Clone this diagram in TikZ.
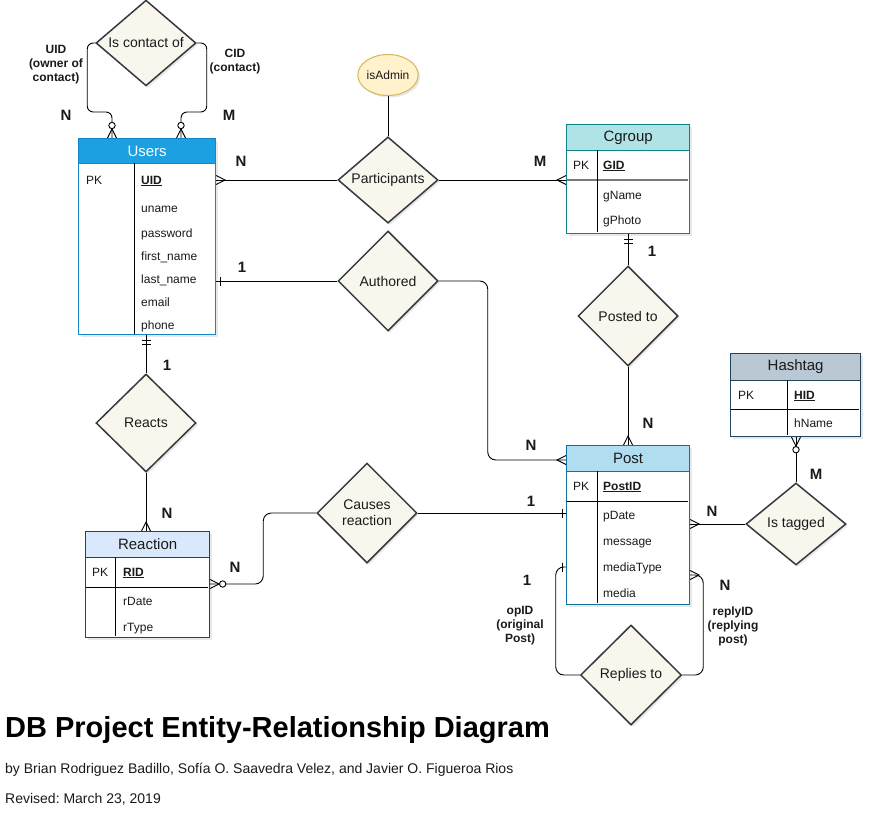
\documentclass[tikz,border=0pt]{standalone}
\usepackage{fontspec}
\setmainfont{Liberation Sans}
\usetikzlibrary{shapes.geometric,calc,shadows}
\frenchspacing
\definecolor{dfill}{HTML}{F9F7ED}
\definecolor{dborder}{HTML}{36393D}
\definecolor{usersH}{HTML}{1BA1E2}
\definecolor{usersB}{HTML}{1585C8}
\definecolor{cgH}{HTML}{B0E3E6}
\definecolor{cgB}{HTML}{0E8088}
\definecolor{postH}{HTML}{B1DDF0}
\definecolor{postB}{HTML}{10739E}
\definecolor{hashH}{HTML}{BAC8D3}
\definecolor{hashB}{HTML}{23445D}
\definecolor{reacH}{HTML}{DAE8FC}
\definecolor{reacB}{HTML}{3C3C3C}
\definecolor{adminF}{HTML}{FFF2CC}
\definecolor{adminB}{HTML}{D6B656}
\definecolor{txt}{HTML}{1A1A1A}
\definecolor{sepgray}{HTML}{7A7A7A}
\tikzset{
  conn/.style={draw=black, line width=0.9pt},
  softshadow/.style={drop shadow={opacity=0.18, shadow xshift=2pt, shadow yshift=-2pt}},
  attr/.style={anchor=mid west, yshift=-1.5pt, inner sep=0pt, font=\fontsize{12}{14}\selectfont, text=txt},
  card/.style={inner sep=0pt, font=\fontsize{15}{18}\selectfont\bfseries, text=txt},
  note/.style={inner sep=0pt, font=\fontsize{12}{14}\selectfont\bfseries, text=txt, align=center},
  rel/.style={diamond, draw=dborder, fill=dfill, line width=1.5pt, minimum width=100pt,
              minimum height=100pt, inner sep=0pt, font=\fontsize{14}{16}\selectfont, text=txt, align=center, softshadow},
  tbl/.style={draw=#1, line width=1.2pt, fill=white, inner sep=0pt, anchor=north west, softshadow},
  thead/.style={line width=1.2pt, inner sep=0pt, anchor=north west, font=\fontsize{15}{18}\selectfont, text=txt},
}
\newcommand\erMany[2]{\begin{scope}[shift={(#1)},rotate=#2]\draw[conn] (0,4.5)--(9,0)--(0,-4.5);\end{scope}}
\newcommand\erZeroMany[2]{\begin{scope}[shift={(#1)},rotate=#2]\draw[conn] (0,4.5)--(9,0)--(0,-4.5);\draw[conn,fill=white] (12.5,0) circle[radius=3.2pt];\end{scope}}
\newcommand\erMandOne[2]{\begin{scope}[shift={(#1)},rotate=#2]\draw[conn] (5,4.5)--(5,-4.5) (9,4.5)--(9,-4.5);\end{scope}}
\newcommand\erOne[2]{\begin{scope}[shift={(#1)},rotate=#2]\draw[conn] (4,4.5)--(4,-4.5);\end{scope}}
\begin{document}
\begin{tikzpicture}[x=1pt,y=-1pt]
\fill[white] (0,0) rectangle (872,835);
\useasboundingbox (0,0) rectangle (872,835);

% ---------- Users ----------
\node[tbl=usersB, minimum width=137pt, minimum height=196pt] (users) at (78,138) {};
\node[thead, draw=usersB, fill=usersH, text=white, minimum width=137pt, minimum height=25pt] (usersHead) at (78,138) {Users};
\draw[line width=1pt] (134,163) -- (134,334);
\node[attr] (uPK) at (86,180) {PK};
\node[attr] (uUID) at (141,180) {\textbf{\underline{UID}}};
\node[attr] (uName) at (141,208) {uname};
\node[attr] (uPass) at (141,233) {password};
\node[attr] (uFirst) at (141,256) {first\_name};
\node[attr] (uLast) at (141,279) {last\_name};
\node[attr] (uMail) at (141,302) {email};
\node[attr] (uPhone) at (141,325) {phone};

% ---------- Cgroup ----------
\node[tbl=cgB, minimum width=123pt, minimum height=109pt] (cgroup) at (566,124) {};
\node[thead, draw=cgB, fill=cgH, minimum width=123pt, minimum height=26pt] (cgHead) at (566,124) {Cgroup};
\draw[sepgray, line width=2pt] (567,180) -- (688,180);
\draw[line width=1pt] (597,150) -- (597,232);
\node[attr] (gPK) at (573,165) {PK};
\node[attr] (gGID) at (603,165) {\textbf{\underline{GID}}};
\node[attr] (gName) at (603,195) {gName};
\node[attr] (gPhoto) at (603,220) {gPhoto};

% ---------- Post ----------
\node[tbl=postB, minimum width=123pt, minimum height=159pt] (post) at (566,445) {};
\node[thead, draw=postB, fill=postH, minimum width=123pt, minimum height=26pt] (postHead) at (566,445) {Post};
\draw[line width=1pt] (567,501) -- (688,501);
\draw[line width=1pt] (597,471) -- (597,603);
\node[attr] (pPK) at (573,486) {PK};
\node[attr] (pID) at (603,486) {\textbf{\underline{PostID}}};
\node[attr] (pDate) at (603,515) {pDate};
\node[attr] (pMsg) at (603,541) {message};
\node[attr] (pMT) at (603,567) {mediaType};
\node[attr] (pMedia) at (603,593) {media};

% ---------- Hashtag ----------
\node[tbl=hashB, minimum width=130pt, minimum height=83pt] (hashtag) at (730,353) {};
\node[thead, draw=hashB, fill=hashH, minimum width=130pt, minimum height=27pt] (hashHead) at (730,353) {Hashtag};
\draw[line width=1pt] (731,409) -- (859,409);
\draw[line width=1pt] (787,380) -- (787,435);
\node[attr] (hPK) at (738,395) {PK};
\node[attr] (hID) at (794,395) {\textbf{\underline{HID}}};
\node[attr] (hName) at (794,423) {hName};

% ---------- Reaction ----------
\node[tbl=reacB, minimum width=124pt, minimum height=106pt] (reaction) at (85,531) {};
\node[thead, draw=reacB, fill=reacH, minimum width=124pt, minimum height=26pt] (reacHead) at (85,531) {Reaction};
\draw[line width=1pt] (86,587) -- (208,587);
\draw[line width=1pt] (115,557) -- (115,636);
\node[attr] (rPK) at (92,572) {PK};
\node[attr] (rID) at (123,572) {\textbf{\underline{RID}}};
\node[attr] (rDate) at (123,601) {rDate};
\node[attr] (rType) at (123,627) {rType};

% ---------- Relationships ----------
\node[rel, minimum height=84pt] (contact) at (146,43) {Is contact of};
\node[rel, minimum height=80pt] (part) at (388,180) {Participants};
\node[ellipse, draw=adminB, fill=adminF, line width=1pt, minimum width=60pt, minimum height=41pt,
      inner sep=0pt, font=\fontsize{12}{14}\selectfont, text=txt, softshadow] (admin) at (388,75) {isAdmin};
\node[rel] (auth) at (388,281) {Authored};
\node[rel] (posted) at (628,316) {Posted to};
\node[rel, minimum height=98pt] (reacts) at (146,423) {Reacts};
\node[rel] (cause) at (367,513) {Causes\\reaction};
\node[rel, minimum height=82pt] (tag) at (796,524) {Is tagged};
\node[rel, minimum width=101pt] (reply) at (631,675) {Replies to};

% ---------- Connector coordinates ----------
\coordinate (cL1) at ($(users.north west)+(34,0)$);
\coordinate (cR1) at ($(users.north west)+(103,0)$);
\coordinate (pA) at ($(post.north west)+(0,15)$);
\coordinate (pC) at ($(post.north west)+(0,68)$);
\coordinate (pT) at ($(post.north east)+(0,79)$);
\coordinate (pRl) at ($(post.north west)+(0,122)$);
\coordinate (pRr) at ($(post.north east)+(0,130)$);
\coordinate (rC) at ($(reaction.north east)+(0,53)$);

% ---------- Connectors ----------
\draw[conn, rounded corners=6pt] (contact.west) -- ++(-8,0) -- ++(0,69) -| (cL1);
\draw[conn, rounded corners=6pt] (contact.east) -- ++(10,0) -- ++(0,69) -| (cR1);
\erZeroMany{cL1}{90}
\erZeroMany{cR1}{90}

\draw[conn] (users.east |- part.west) -- (part.west);
\erMany{users.east |- part.west}{0}
\draw[conn] (admin.south) -- (part.north);
\draw[conn] (part.east) -- (cgroup.west |- part.east);
\erMany{cgroup.west |- part.east}{180}

\draw[conn] (users.east |- auth.west) -- (auth.west);
\erOne{users.east |- auth.west}{0}
\draw[conn, rounded corners=8pt] (auth.east) -- ++(49,0) |- (pA);
\erMany{pA}{180}

\draw[conn] (cgroup.south -| posted.north) -- (posted.north);
\erMandOne{cgroup.south -| posted.north}{270}
\draw[conn] (posted.south) -- (post.north -| posted.south);
\erMany{post.north -| posted.south}{90}

\draw[conn] (users.south -| reacts.north) -- (reacts.north);
\erMandOne{users.south -| reacts.north}{270}
\draw[conn] (reacts.south) -- (reaction.north -| reacts.south);
\erMany{reaction.north -| reacts.south}{90}

\draw[conn, rounded corners=8pt] (cause.west) -- ++(-53,0) |- (rC);
\erZeroMany{rC}{0}
\draw[conn] (cause.east) -- (pC);
\erOne{pC}{180}

\draw[conn] (pT) -- (tag.west);
\erMany{pT}{0}
\draw[conn] (hashtag.south -| tag.north) -- (tag.north);
\erZeroMany{hashtag.south -| tag.north}{270}

\draw[conn, rounded corners=8pt] (reply.west) -- ++(-24,0) |- (pRl);
\erOne{pRl}{180}
\draw[conn, rounded corners=8pt] (reply.east) -- ++(21,0) |- (pRr);
\erMany{pRr}{0}

% ---------- Cardinalities & role labels ----------
\node[card] (cN1) at (66,115) {N};
\node[card] (cM1) at (229,115) {M};
\node[note] (lUID) at (56,65) {UID\\(owner of\\contact)};
\node[note] (lCID) at (235,62) {CID\\(contact)};
\node[card] (cN2) at (241,161) {N};
\node[card] (cM2) at (540,161) {M};
\node[card] (c12) at (242,267) {1};
\node[card] (cN3) at (531,445) {N};
\node[card] (c13) at (652,251) {1};
\node[card] (cN4) at (648,423) {N};
\node[card] (c14) at (167,365) {1};
\node[card] (cN5) at (167,513) {N};
\node[card] (cN6) at (235,567) {N};
\node[card] (c15) at (531,501) {1};
\node[card] (cN7) at (712,511) {N};
\node[card] (cM3) at (816,474) {M};
\node[card] (c16) at (527,580) {1};
\node[note] (lOp) at (520,626) {opID\\(original\\Post)};
\node[card] (cN8) at (725,585) {N};
\node[note] (lRep) at (733,626) {replyID\\(replying\\post)};

% ---------- Title block ----------
\node[anchor=base west, inner sep=0pt, font=\fontsize{29}{34}\selectfont\bfseries, text=black] (title) at (5,737) {DB Project Entity-Relationship Diagram};
\node[anchor=base west, inner sep=0pt, font=\fontsize{14}{16}\selectfont, text=txt] (authors) at (5,773) {by Brian Rodriguez Badillo, Sofía O. Saavedra Velez, and Javier O. Figueroa Rios};
\node[anchor=base west, inner sep=0pt, font=\fontsize{14}{16}\selectfont, text=txt] (revised) at (5,803) {Revised: March 23, 2019};
\end{tikzpicture}
\end{document}
